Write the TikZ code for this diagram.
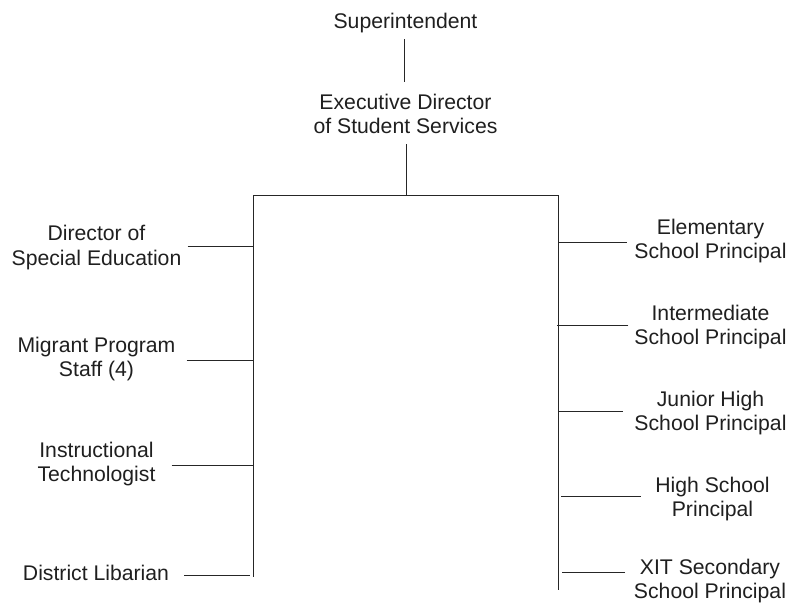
\documentclass[tikz,border=0pt]{standalone}
\usepackage{fontspec}
\setmainfont{Liberation Sans}
\begin{document}
\begin{tikzpicture}[x=1pt,y=-1pt,
  lbl/.style={font=\fontsize{21.2}{24.2}\selectfont, text=black!88, align=center, anchor=base, inner sep=0pt},
  conn/.style={draw=black!85, line width=0.9pt}]
\useasboundingbox (0,0) rectangle (788,605);
% nodes (anchor = baseline of last line)
\node[lbl] (sup) at (405.5,28) {Superintendent};
\node[lbl] (exe) at (405.5,133.5) {Executive Director\\of Student Services};
\node[lbl] (dse) at (96.5,265) {Director of\\Special Education};
\node[lbl] (mps) at (96.5,376.7) {Migrant Program\\Staff (4)};
\node[lbl] (itc) at (96.5,481.7) {Instructional\\Technologist};
\node[lbl] (dlb) at (96,580) {District Libarian};
\node[lbl] (esp) at (710.5,258.3) {Elementary\\School Principal};
\node[lbl] (isp) at (710.5,344.5) {Intermediate\\School Principal};
\node[lbl] (jsp) at (710.5,430.5) {Junior High\\School Principal};
\node[lbl] (hsp) at (712.5,516.7) {High School\\Principal};
\node[lbl] (xsp) at (710,598.5) {XIT Secondary\\School Principal};
% coordinates
\coordinate (supB) at (404.5,39);
\coordinate (exeT) at (404.5,82);
\coordinate (exeB) at (406,144);
\coordinate (busC) at (406,195);
\coordinate (busL) at (253,195);
\coordinate (busR) at (558,195);
\coordinate (botL) at (253,577);
\coordinate (botR) at (558,590);
\coordinate (dseE) at (187.7,246.7);
\coordinate (mpsE) at (186.7,360);
\coordinate (itcE) at (171.7,465);
\coordinate (dlbE) at (184.3,575.7);
\coordinate (espW) at (626.7,242.7);
\coordinate (ispW) at (628.3,325.3);
\coordinate (jspW) at (622.7,411);
\coordinate (hspW) at (640.7,496);
\coordinate (xspW) at (625,572.3);
% connectors
\draw[conn] (supB) -- (exeT);
\draw[conn] (exeB) -- (busC);
\draw[conn] (busL) -- (busR);
\draw[conn] (busL) -- (botL);
\draw[conn] (busR) -- (botR);
\draw[conn] (dseE) -- (dseE -| busL);
\draw[conn] (mpsE) -- (mpsE -| busL);
\draw[conn] (itcE) -- (itcE -| busL);
\draw[conn] (dlbE) -- ([xshift=-3pt]dlbE -| busL);
\draw[conn] (espW) -- (espW -| busR);
\draw[conn] (ispW) -- ([xshift=-1.3pt]ispW -| busR);
\draw[conn] (jspW) -- (jspW -| busR);
\draw[conn] (hspW) -- ([xshift=3pt]hspW -| busR);
\draw[conn] (xspW) -- ([xshift=3.7pt]xspW -| busR);
\end{tikzpicture}
\end{document}
